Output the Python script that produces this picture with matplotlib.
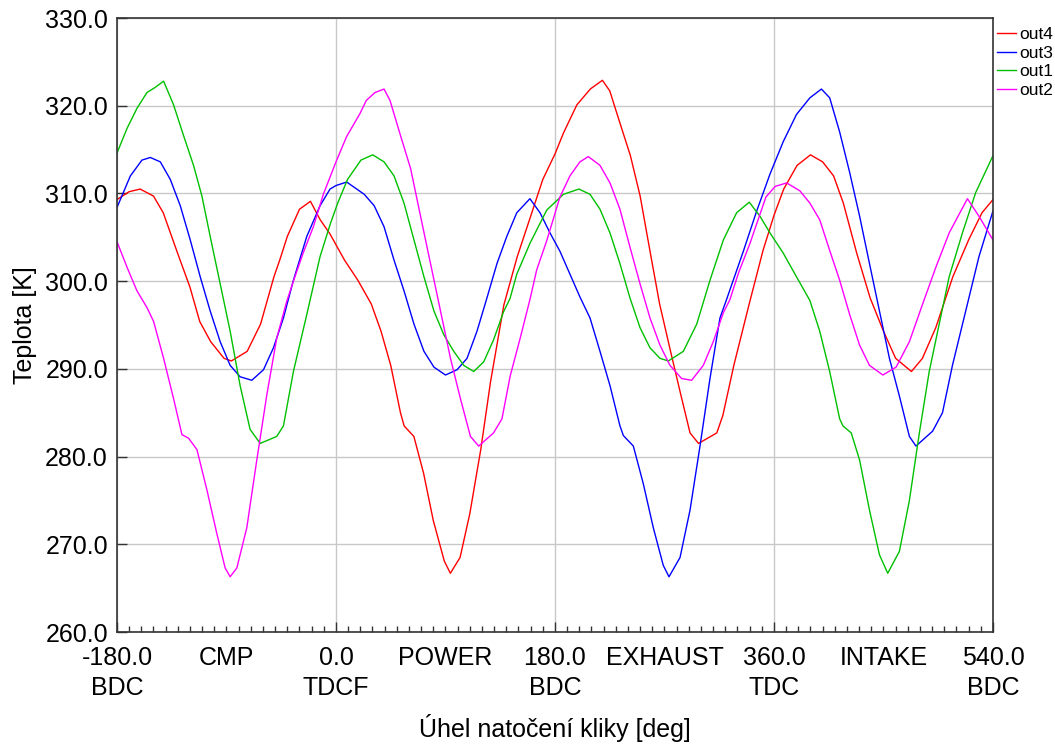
import numpy as np
import matplotlib
matplotlib.use('Agg')
import matplotlib.pyplot as plt
from matplotlib.ticker import FixedLocator, FuncFormatter

plt.rcParams['font.family'] = ['Liberation Sans', 'DejaVu Sans']

# crank angle [deg] and temperature [K]
out4_x = [-180, -170, -161, -150, -142, -131, -120, -112, -103, -92, -86, -73, -62, -51, -46, -40, -30, -21, -13, -5, 7,
          18, 29, 37, 45, 53, 56, 64, 72, 80, 89, 94, 102, 110, 119, 127, 138, 149, 160, 170, 180,
          187, 198, 209, 219, 225, 233, 242, 250, 258, 266, 275, 283, 291, 298, 313, 318, 327, 340, 351, 360,
          368, 379, 390, 400, 409, 417, 428, 439, 450, 460, 473, 482, 493, 507, 520, 531, 540]
out4_y = [309.3, 310.2, 310.5, 309.7, 307.8, 303.5, 299.3, 295.4, 293.1, 291.2, 290.9, 292.0, 295.1, 300.5, 302.5, 305.1, 308.2, 309.1, 307.0, 305.4, 302.4,
          300.1, 297.4, 294.3, 290.4, 285.0, 283.5, 282.3, 278.1, 272.7, 268.1, 266.7, 268.5, 273.5, 280.8, 288.5, 297.3, 302.8, 307.4, 311.6, 314.5,
          316.9, 320.1, 321.9, 322.9, 321.7, 318.2, 314.3, 309.7, 303.5, 297.4, 292.0, 287.3, 282.7, 281.5, 282.7, 284.7, 290.4, 297.6, 303.5, 307.5,
          310.5, 313.2, 314.4, 313.6, 312.0, 308.9, 303.2, 298.1, 294.3, 291.2, 289.7, 291.2, 294.7, 300.5, 304.7, 307.8, 309.3]

out3_x = [-180, -169, -159.5, -152.6, -144.4, -136.2, -128, -119.8, -111.6, -103.4, -95.2, -87, -78.8, -69.2, -59.6, -51.4, -43.2, -39.4, -35, -24, -13.1,
          -4.9, 0, 8.8, 23.2, 31.4, 39.5, 47.7, 55.9, 64.1, 72.3, 80.5, 90, 99.5, 107.7, 115.9, 124.1, 132.3, 140.4, 148.6, 159.4,
          167.7, 175.9, 184.1, 192.3, 200.5, 208.8, 217, 225.2, 233.4, 236.2, 244.4, 252.6, 260.8, 269, 273.7, 282.8, 291, 299.2, 307.4, 315.6,
          321, 334.8, 345.8, 356.7, 367.6, 378.5, 389.5, 399, 405.8, 414, 422.2, 430.4, 438.5, 446.7, 454.9, 463.1, 471.3, 476.7, 490.4, 498.5,
          506.7, 517.6, 528.5, 540]
out3_y = [308.4, 312.0, 313.8, 314.1, 313.6, 311.6, 308.6, 304.7, 300.5, 296.6, 293.1, 290.4, 289.1, 288.7, 289.9, 292.4, 295.8, 297.8, 300.1, 305.1, 308.6,
          310.5, 310.9, 311.3, 309.9, 308.6, 306.2, 302.4, 298.9, 295.1, 292.0, 290.2, 289.3, 289.9, 291.2, 294.3, 298.1, 302.0, 305.1, 307.8, 309.4,
          307.8, 305.5, 303.4, 300.8, 298.2, 295.8, 292.0, 288.1, 283.5, 282.4, 281.2, 276.9, 271.9, 267.6, 266.3, 268.5, 273.9, 281.2, 288.9, 295.8,
          297.9, 303.4, 308.0, 312.2, 315.9, 319.0, 320.9, 321.9, 320.9, 317.0, 312.4, 307.4, 302.0, 296.6, 291.2, 286.9, 282.3, 281.2, 282.9, 285.0,
          290.4, 296.6, 302.8, 308.0]

out1_x = [-180, -171.8, -163.6, -155.4, -148.5, -141.7, -133.5, -125.3, -117.1, -110.2, -103.4, -95.2, -87, -78.8, -70.6, -62.3, -48.7, -43.2, -35, -24,
          -13.1, -4.5, 1.4, 9.5, 20.5, 30.2, 39.5, 47.7, 55.9, 64.1, 72.3, 80.5, 88.6, 96.8, 105, 113.2, 121.4, 129.5, 137.7, 143, 148.6,
          159.4, 173.2, 186.9, 199.7, 208.8, 217, 225.2, 233.4, 241.6, 249.9, 258.1, 266.3, 273.2, 285.5, 296.5, 307.4, 318.4, 329.3, 339.7,
          348.5, 356.7, 367.6, 378.5, 389.5, 397.6, 405.8, 414, 416.7, 423.5, 430.4, 438.5, 446.7, 453.5, 463.1, 471.3, 479.5, 487.6, 495.8, 504,
          514.9, 525.8, 540]
out1_y = [314.6, 317.4, 319.7, 321.5, 322.1, 322.8, 320.1, 316.6, 313.2, 309.7, 305.1, 299.7, 294.3, 288.1, 283.1, 281.5, 282.3, 283.5, 289.7, 296.2,
          302.8, 306.6, 308.9, 311.6, 313.8, 314.4, 313.6, 312.0, 308.9, 304.7, 300.5, 296.6, 293.9, 292.0, 290.4, 289.7, 290.8, 293.3, 296.5, 298.0, 300.8,
          304.3, 308.1, 309.9, 310.5, 309.9, 308.2, 305.5, 302.0, 298.1, 294.7, 292.4, 291.2, 290.9, 292.0, 295.1, 300.1, 304.7, 307.8, 309.0,
          307.4, 305.5, 303.2, 300.5, 297.8, 294.3, 289.7, 284.3, 283.5, 282.7, 279.6, 273.9, 268.8, 266.7, 269.2, 275.0, 282.7, 289.7, 295.1, 300.5,
          305.5, 310.1, 314.3]

out2_x = [-180, -171.8, -163.6, -155.4, -149.9, -141.7, -133.5, -126.6, -121.2, -114.3, -106.1, -97.9, -91.1, -87, -81.5, -73.3, -65.1, -56.9, -48.7, -40.5,
          -35, -27, -18.6, -10.4, 0, 8.8, 19.7, 24.9, 32, 39.5, 44.4, 52.6, 61.4, 69.5, 77.7, 85.9, 94.1, 102.3, 110.5, 117.3, 129.5, 136.4,
          143.2, 151.4, 159.4, 165, 173.2, 184.1, 192.3, 200.5, 207.4, 217, 225.2, 233.4, 241.6, 249.9, 258.1, 266.3, 274.5, 284.1, 292.3, 301.9,
          310.1, 318.4, 323.8, 331, 340, 353.4, 361, 370.4, 381.3, 389.5, 397.6, 405.8, 414, 422.2, 430.4, 438.5, 449.5, 460.4, 471.3, 482.2, 493.1,
          504, 519, 528.5, 540]
out2_y = [304.5, 301.6, 298.9, 297.0, 295.4, 291.2, 286.6, 282.5, 282.1, 280.8, 276.2, 271.2, 267.3, 266.3, 267.3, 271.9, 279.6, 287.0, 293.5, 297.7,
          300.0, 303.2, 306.2, 309.9, 313.6, 316.5, 319.1, 320.6, 321.5, 321.9, 320.6, 316.8, 312.8, 307.4, 302.0, 296.6, 291.2, 286.6, 282.3, 281.2, 282.7, 284.3,
          289.2, 293.5, 297.9, 301.3, 304.6, 309.6, 312.0, 313.6, 314.2, 313.2, 311.2, 308.2, 303.9, 299.7, 295.8, 292.7, 290.4, 288.9, 288.7, 290.4,
          293.1, 296.4, 297.9, 301.0, 304.2, 309.6, 310.8, 311.2, 310.3, 308.9, 307.0, 303.5, 300.1, 296.2, 292.7, 290.4, 289.3, 290.2, 293.1, 297.4, 301.6,
          305.5, 309.4, 307.4, 304.7]

major_ticks = [-180, 0, 180, 360, 540]
major_labels = ['-180.0\nBDC', '0.0\nTDCF', '180.0\nBDC', '360.0\nTDC', '540.0\nBDC']
stroke_pos = [-90, 90, 270, 450]
stroke_names = ['CMP', 'POWER', 'EXHAUST', 'INTAKE']

fig = plt.figure(figsize=(10.55, 7.44), dpi=100)
ax = fig.add_axes([0.1109, 0.1505, 0.8303, 0.8253])

ax.plot(out4_x, out4_y, color='#ff0000', lw=1.0, label='out4')
ax.plot(out3_x, out3_y, color='#0000ff', lw=1.0, label='out3')
ax.plot(out1_x, out1_y, color='#00c000', lw=1.0, label='out1')
ax.plot(out2_x, out2_y, color='#ff00ff', lw=1.0, label='out2')

ax.set_xlim(-180, 540)
ax.set_ylim(260, 330)

ax.xaxis.set_major_locator(FixedLocator(major_ticks))
ax.set_xticklabels(major_labels)
ax.xaxis.set_minor_locator(FixedLocator(np.arange(-180, 541, 10)))
names = dict(zip(stroke_pos, stroke_names))
ax.xaxis.set_minor_formatter(FuncFormatter(lambda v, p: names.get(int(round(v)), '')))
ax.set_yticks(np.arange(260, 331, 10))
ax.set_yticklabels(['%.1f' % v for v in np.arange(260, 331, 10)])

ax.tick_params(axis='both', which='both', direction='in', labelsize=18, colors='#333333',
               labelcolor='black')
ax.tick_params(axis='x', which='both', pad=10)
ax.tick_params(axis='x', which='major', length=7, width=1)
ax.tick_params(axis='x', which='minor', length=4, width=1)
ax.tick_params(axis='y', which='major', length=7, width=1, pad=6.5)
for lbl in ax.get_xticklabels(which='both'):
    lbl.set_linespacing(1.3)

ax.grid(True, which='major', color='#c8c8c8', lw=1.0)
ax.set_axisbelow(True)
for s in ax.spines.values():
    s.set_color('#333333')
    s.set_linewidth(1.2)

ax.set_xlabel('Úhel natočení kliky [deg]', fontsize=18, labelpad=10)
ax.set_ylabel('Teplota [K]', fontsize=18, labelpad=6)

ax.legend(loc='upper left', bbox_to_anchor=(1.0, 0.9927), frameon=False, fontsize=12.5,
          handlelength=1.1, handletextpad=0.15, labelspacing=0.2, borderaxespad=0.05,
          borderpad=0.2)

fig.savefig('out.png', dpi=100)
